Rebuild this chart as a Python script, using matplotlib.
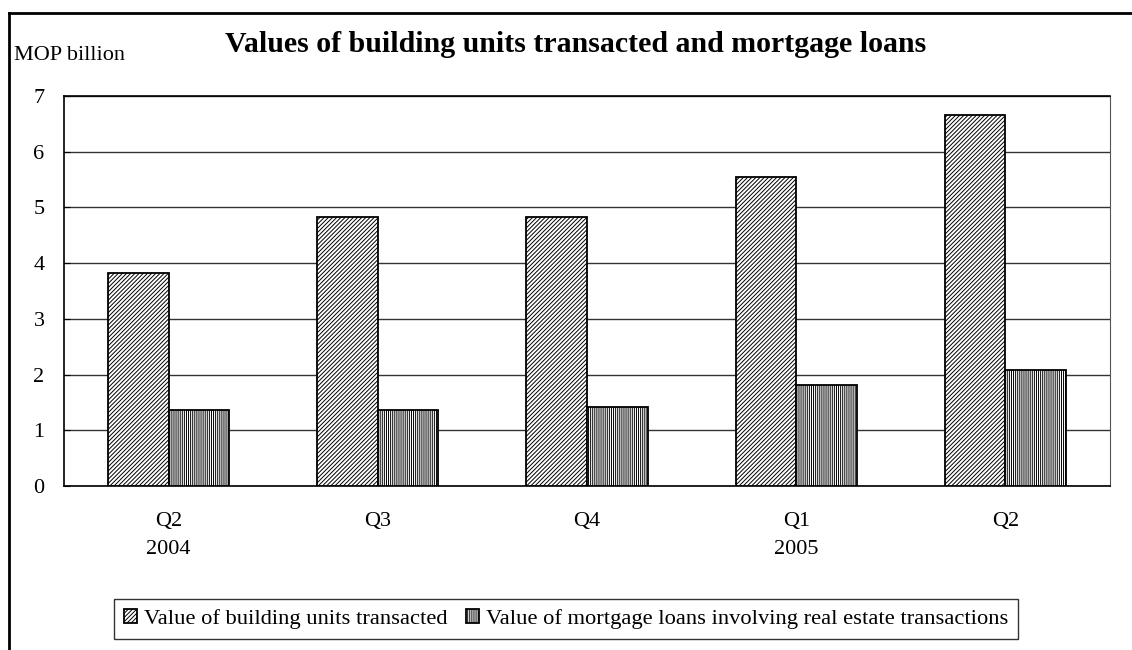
import numpy as np
import matplotlib
matplotlib.use("Agg")
from matplotlib import pyplot as plt
from matplotlib.lines import Line2D

# Data (MOP billion)
quarters = ["Q2\n2004", "Q3", "Q4", "Q1\n2005", "Q2"]
building_values = [3.82, 4.83, 4.83, 5.55, 6.66]
mortgage_values = [1.36, 1.37, 1.42, 1.81, 2.09]
y_ticks = [0, 1, 2, 3, 4, 5, 6, 7]

plt.rcParams['font.family'] = ['Liberation Serif', 'DejaVu Serif']
plt.rcParams['hatch.linewidth'] = 0.7

fig = plt.figure(figsize=(11.32, 6.5), dpi=100)
ax = fig.add_axes([64 / 1132, 1 - 486 / 650, 1046 / 1132, 390 / 650])

x = np.arange(len(quarters))
w = 0.29
ax.bar(x - w / 2, building_values, w, color="white", edgecolor="black",
       hatch="////////", linewidth=1.3, label="Value of building units transacted", zorder=3)
ax.bar(x + w / 2, mortgage_values, w, color="white", edgecolor="black",
       hatch="||||||||", linewidth=1.3,
       label="Value of mortgage loans involving real estate transactions", zorder=3)

ax.set_xlim(-0.5, len(quarters) - 0.5)
ax.set_ylim(0, 7)
ax.set_yticks(y_ticks)
ax.set_xticks(x)
ax.set_xticklabels(quarters, fontsize=16, linespacing=1.65)
ax.tick_params(axis="x", length=0, pad=19)
ax.tick_params(axis="y", labelsize=16, length=4, direction="in", pad=14)
ax.yaxis.grid(True, color="#333333", linewidth=1.0)
ax.set_axisbelow(True)
for side in ["left", "bottom", "top"]:
    ax.spines[side].set_color("black")
    ax.spines[side].set_linewidth(1.2)
ax.spines["right"].set_color("#555555")

fig.text(14 / 1132, 1 - 55 / 650, "MOP billion", fontsize=16, va="center", ha="left")
fig.text(576 / 1132, 1 - 45 / 650, "Values of building units transacted and mortgage loans",
         fontsize=21.5, fontweight="bold", ha="center", va="center")

leg = fig.legend(loc="center", bbox_to_anchor=(566 / 1132, 1 - 619 / 650), ncol=2,
                 fontsize=16.2, frameon=True, fancybox=False, edgecolor="black",
                 handlelength=0.6, handleheight=0.6, handletextpad=0.3,
                 columnspacing=0.8, borderpad=0.45)
leg.get_frame().set_linewidth(1.0)

# outer chart frame (cut off at right and bottom)
fig.add_artist(Line2D([9 / 1132, 9 / 1132], [1 - 13 / 650, 0], color="black",
                      linewidth=2, transform=fig.transFigure))
fig.add_artist(Line2D([9 / 1132, 1], [1 - 13 / 650, 1 - 13 / 650], color="black",
                      linewidth=2, transform=fig.transFigure))

fig.savefig("out.png", dpi=100)
